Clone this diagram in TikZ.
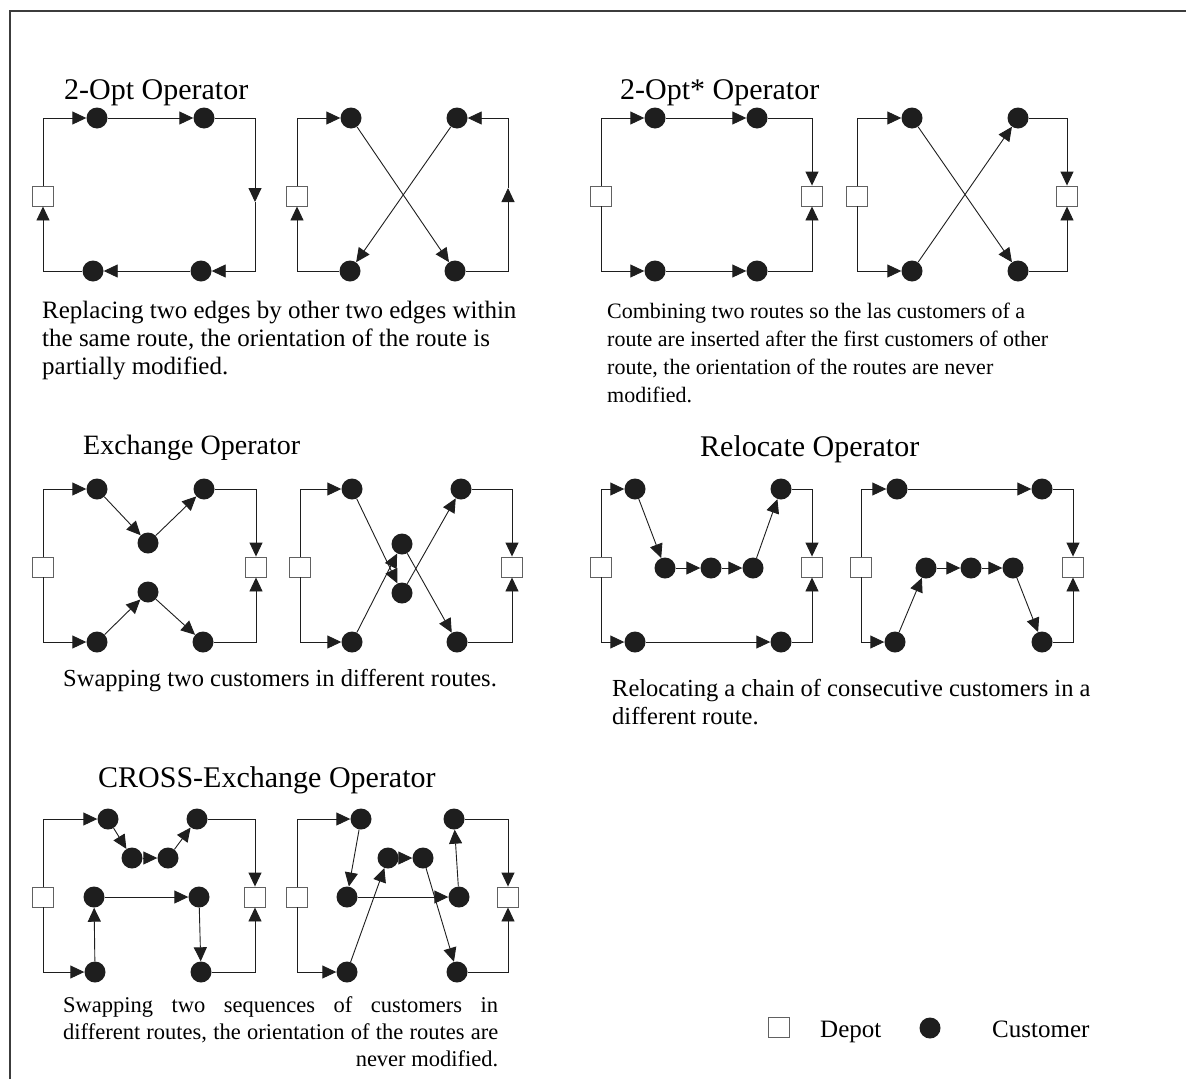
\documentclass[tikz,border=0pt]{standalone}
\usepackage{fontspec}
\setmainfont{Liberation Serif}
\usepackage{tikz}
\usetikzlibrary{arrows.meta}
\definecolor{inkgray}{HTML}{1E1E1E}
\definecolor{framegray}{HTML}{3C3C3C}

\begin{document}
\begin{tikzpicture}[
  x=1pt,y=-1pt,
  depot/.style={draw=inkgray!70,fill=white,line width=0.9pt,minimum width=21pt,minimum height=20pt,inner sep=0pt},
  cust/.style={circle,fill=inkgray,minimum size=21pt,inner sep=0pt},
  arr/.style={-{Triangle[length=14pt,width=13pt]},line width=0.9pt,draw=inkgray},
  optitle/.style={anchor=base west,inner sep=0pt,font=\fontsize{30}{34}\selectfont},
  caption/.style={anchor=north west,inner sep=0pt,align=left,font=\fontsize{25}{28}\selectfont},
  smallcaption/.style={caption,font=\fontsize{22}{28}\selectfont},
  legtext/.style={anchor=base west,inner sep=0pt,font=\fontsize{25}{28}\selectfont}
]
\useasboundingbox (0,0) rectangle (1186,1079);
\draw[framegray,line width=1.5pt] (10,1079) -- (10,11) -- (1186,11);

% 2-Opt
\node[optitle] (opt-title) at (64,99) {2-Opt Operator};
\node[depot] (opta-dl) at (43,196) {};
\node[cust] (opta-t1) at (97,118) {};
\node[cust] (opta-t2) at (204,118) {};
\node[cust] (opta-b1) at (93,271) {};
\node[cust] (opta-b2) at (201,271) {};
\coordinate (opta-m) at (255,202);
\draw[arr] (opta-dl.north) |- (opta-t1);
\draw[arr] (opta-t1) -- (opta-t2);
\draw[arr] (opta-t2) -| (opta-m);
\draw[arr] (opta-m) |- (opta-b2);
\draw[arr] (opta-b2) -- (opta-b1);
\draw[arr] (opta-b1) -| (opta-dl.south);

\node[depot] (optb-dl) at (297,196) {};
\node[cust] (optb-t1) at (351,118) {};
\node[cust] (optb-t2) at (457,118) {};
\node[cust] (optb-b1) at (350,271) {};
\node[cust] (optb-b2) at (455,271) {};
\coordinate (optb-m) at (508,188);
\draw[arr] (optb-dl.north) |- (optb-t1);
\draw[arr] (optb-t1) -- (optb-b2);
\draw[arr] (optb-b2) -| (optb-m);
\draw[arr] (optb-m) |- (optb-t2);
\draw[arr] (optb-t2) -- (optb-b1);
\draw[arr] (optb-b1) -| (optb-dl.south);

\node[caption] (opt-text) at (42,301) {Replacing two edges by other two edges within\\the same route, the orientation of the route is\\partially modified.};

% 2-Opt*
\node[optitle] (opts-title) at (620,99) {2-Opt* Operator};
\node[depot] (optsa-dl) at (601,196) {};
\node[depot] (optsa-dr) at (812,196) {};
\node[cust] (optsa-t1) at (655,118) {};
\node[cust] (optsa-t2) at (757,118) {};
\node[cust] (optsa-b1) at (655,271) {};
\node[cust] (optsa-b2) at (757,271) {};
\draw[arr] (optsa-dl.north) |- (optsa-t1);
\draw[arr] (optsa-t1) -- (optsa-t2);
\draw[arr] (optsa-t2) -| (optsa-dr.north);
\draw[arr] (optsa-dl.south) |- (optsa-b1);
\draw[arr] (optsa-b1) -- (optsa-b2);
\draw[arr] (optsa-b2) -| (optsa-dr.south);

\node[depot] (optsb-dl) at (857,196) {};
\node[depot] (optsb-dr) at (1067,196) {};
\node[cust] (optsb-t1) at (912,118) {};
\node[cust] (optsb-t2) at (1018,118) {};
\node[cust] (optsb-b1) at (912,271) {};
\node[cust] (optsb-b2) at (1018,271) {};
\draw[arr] (optsb-dl.north) |- (optsb-t1);
\draw[arr] (optsb-t1) -- (optsb-b2);
\draw[arr] (optsb-b2) -| (optsb-dr.south);
\draw[arr] (optsb-dl.south) |- (optsb-b1);
\draw[arr] (optsb-b1) -- (optsb-t2);
\draw[arr] (optsb-t2) -| (optsb-dr.north);

\node[smallcaption] (opts-text) at (607,303) {Combining two routes so the las customers of a\\route are inserted after the first customers of other\\route, the orientation of the routes are never\\modified.};

% Exchange
\node[optitle,font=\fontsize{28}{34}\selectfont] (exc-title) at (83,454) {Exchange Operator};
\node[depot] (exca-dl) at (43,567) {};
\node[depot] (exca-dr) at (256,567) {};
\node[cust] (exca-t1) at (97,489) {};
\node[cust] (exca-u) at (148,543) {};
\node[cust] (exca-t2) at (204,489) {};
\node[cust] (exca-b1) at (97,642) {};
\node[cust] (exca-l) at (148,592) {};
\node[cust] (exca-b2) at (203,642) {};
\draw[arr] (exca-dl.north) |- (exca-t1);
\draw[arr] (exca-t1) -- (exca-u);
\draw[arr] (exca-u) -- (exca-t2);
\draw[arr] (exca-t2) -| (exca-dr.north);
\draw[arr] (exca-dl.south) |- (exca-b1);
\draw[arr] (exca-b1) -- (exca-l);
\draw[arr] (exca-l) -- (exca-b2);
\draw[arr] (exca-b2) -| (exca-dr.south);

\node[depot] (excb-dl) at (300,567) {};
\node[depot] (excb-dr) at (512,567) {};
\node[cust] (excb-t1) at (352,489) {};
\node[cust] (excb-t2) at (461,489) {};
\node[cust] (excb-u) at (402,544) {};
\node[cust] (excb-l) at (402,593) {};
\node[cust] (excb-b1) at (352,642) {};
\node[cust] (excb-b2) at (457,642) {};
\draw[arr] (excb-dl.north) |- (excb-t1);
\draw[arr] (excb-t1) -- (excb-l);
\draw[arr] (excb-l) -- (excb-t2);
\draw[arr] (excb-t2) -| (excb-dr.north);
\draw[arr] (excb-dl.south) |- (excb-b1);
\draw[arr] (excb-b1) -- (excb-u);
\draw[arr] (excb-u) -- (excb-b2);
\draw[arr] (excb-b2) -| (excb-dr.south);

\node[caption,font=\fontsize{24.5}{28}\selectfont] (exc-text) at (63,669) {Swapping two customers in different routes.};

% Relocate
\node[optitle] (rel-title) at (700,456) {Relocate Operator};
\node[depot] (rela-dl) at (601,567) {};
\node[depot] (rela-dr) at (812,567) {};
\node[cust] (rela-t1) at (635,489) {};
\node[cust] (rela-c1) at (665,568) {};
\node[cust] (rela-c2) at (711,568) {};
\node[cust] (rela-c3) at (753,568) {};
\node[cust] (rela-t2) at (781,489) {};
\node[cust] (rela-b1) at (635,642) {};
\node[cust] (rela-b2) at (781,642) {};
\draw[arr] (rela-dl.north) |- (rela-t1);
\draw[arr] (rela-t1) -- (rela-c1);
\draw[arr] (rela-c1) -- (rela-c2);
\draw[arr] (rela-c2) -- (rela-c3);
\draw[arr] (rela-c3) -- (rela-t2);
\draw[arr] (rela-t2) -| (rela-dr.north);
\draw[arr] (rela-dl.south) |- (rela-b1);
\draw[arr] (rela-b1) -- (rela-b2);
\draw[arr] (rela-b2) -| (rela-dr.south);

\node[depot] (relb-dl) at (861,567) {};
\node[depot] (relb-dr) at (1073,567) {};
\node[cust] (relb-t1) at (897,489) {};
\node[cust] (relb-t2) at (1042,489) {};
\node[cust] (relb-c1) at (926,568) {};
\node[cust] (relb-c2) at (971,568) {};
\node[cust] (relb-c3) at (1013,568) {};
\node[cust] (relb-b1) at (895,642) {};
\node[cust] (relb-b2) at (1042,642) {};
\draw[arr] (relb-dl.north) |- (relb-t1);
\draw[arr] (relb-t1) -- (relb-t2);
\draw[arr] (relb-t2) -| (relb-dr.north);
\draw[arr] (relb-dl.south) |- (relb-b1);
\draw[arr] (relb-b1) -- (relb-c1);
\draw[arr] (relb-c1) -- (relb-c2);
\draw[arr] (relb-c2) -- (relb-c3);
\draw[arr] (relb-c3) -- (relb-b2);
\draw[arr] (relb-b2) -| (relb-dr.south);

\node[caption,font=\fontsize{24.5}{28}\selectfont] (rel-text) at (612,679) {Relocating a chain of consecutive customers in a\\different route.};

% CROSS-Exchange
\node[optitle] (crx-title) at (98,787) {CROSS-Exchange Operator};
\node[depot] (crxa-dl) at (43,897) {};
\node[depot] (crxa-dr) at (255,897) {};
\node[cust] (crxa-t1) at (108,819) {};
\node[cust] (crxa-u1) at (132,858) {};
\node[cust] (crxa-u2) at (168,858) {};
\node[cust] (crxa-t2) at (197,819) {};
\node[cust] (crxa-m1) at (94,897) {};
\node[cust] (crxa-m2) at (199,897) {};
\node[cust] (crxa-b1) at (95,972) {};
\node[cust] (crxa-b2) at (201,972) {};
\draw[arr] (crxa-dl.north) |- (crxa-t1);
\draw[arr] (crxa-t1) -- (crxa-u1);
\draw[arr] (crxa-u1) -- (crxa-u2);
\draw[arr] (crxa-u2) -- (crxa-t2);
\draw[arr] (crxa-t2) -| (crxa-dr.north);
\draw[arr] (crxa-dl.south) |- (crxa-b1);
\draw[arr] (crxa-b1) -- (crxa-m1);
\draw[arr] (crxa-m1) -- (crxa-m2);
\draw[arr] (crxa-m2) -- (crxa-b2);
\draw[arr] (crxa-b2) -| (crxa-dr.south);

\node[depot] (crxb-dl) at (297,897) {};
\node[depot] (crxb-dr) at (508,897) {};
\node[cust] (crxb-t1) at (361,819) {};
\node[cust] (crxb-t2) at (454,819) {};
\node[cust] (crxb-m1) at (347,897) {};
\node[cust] (crxb-m2) at (459,897) {};
\node[cust] (crxb-u1) at (388,858) {};
\node[cust] (crxb-u2) at (423,858) {};
\node[cust] (crxb-b1) at (347,972) {};
\node[cust] (crxb-b2) at (457,972) {};
\draw[arr] (crxb-dl.north) |- (crxb-t1);
\draw[arr] (crxb-t1) -- (crxb-m1);
\draw[arr] (crxb-m1) -- (crxb-m2);
\draw[arr] (crxb-m2) -- (crxb-t2);
\draw[arr] (crxb-t2) -| (crxb-dr.north);
\draw[arr] (crxb-dl.south) |- (crxb-b1);
\draw[arr] (crxb-b1) -- (crxb-u1);
\draw[arr] (crxb-u1) -- (crxb-u2);
\draw[arr] (crxb-u2) -- (crxb-b2);
\draw[arr] (crxb-b2) -| (crxb-dr.south);

\node[caption,font=\fontsize{22.5}{27}\selectfont,text width=435pt,align=justify] (crx-text) at (63,996) {Swapping two sequences of customers in\linebreak different routes, the orientation of the routes are\linebreak\hspace*{\fill}never modified.};

% legend
\node[depot] (leg-depot) at (779,1027) {};
\node[legtext] (leg-depot-text) at (820,1037) {Depot};
\node[cust] (leg-cust) at (930,1028) {};
\node[legtext] (leg-cust-text) at (992,1037) {Customer};
\end{tikzpicture}
\end{document}
